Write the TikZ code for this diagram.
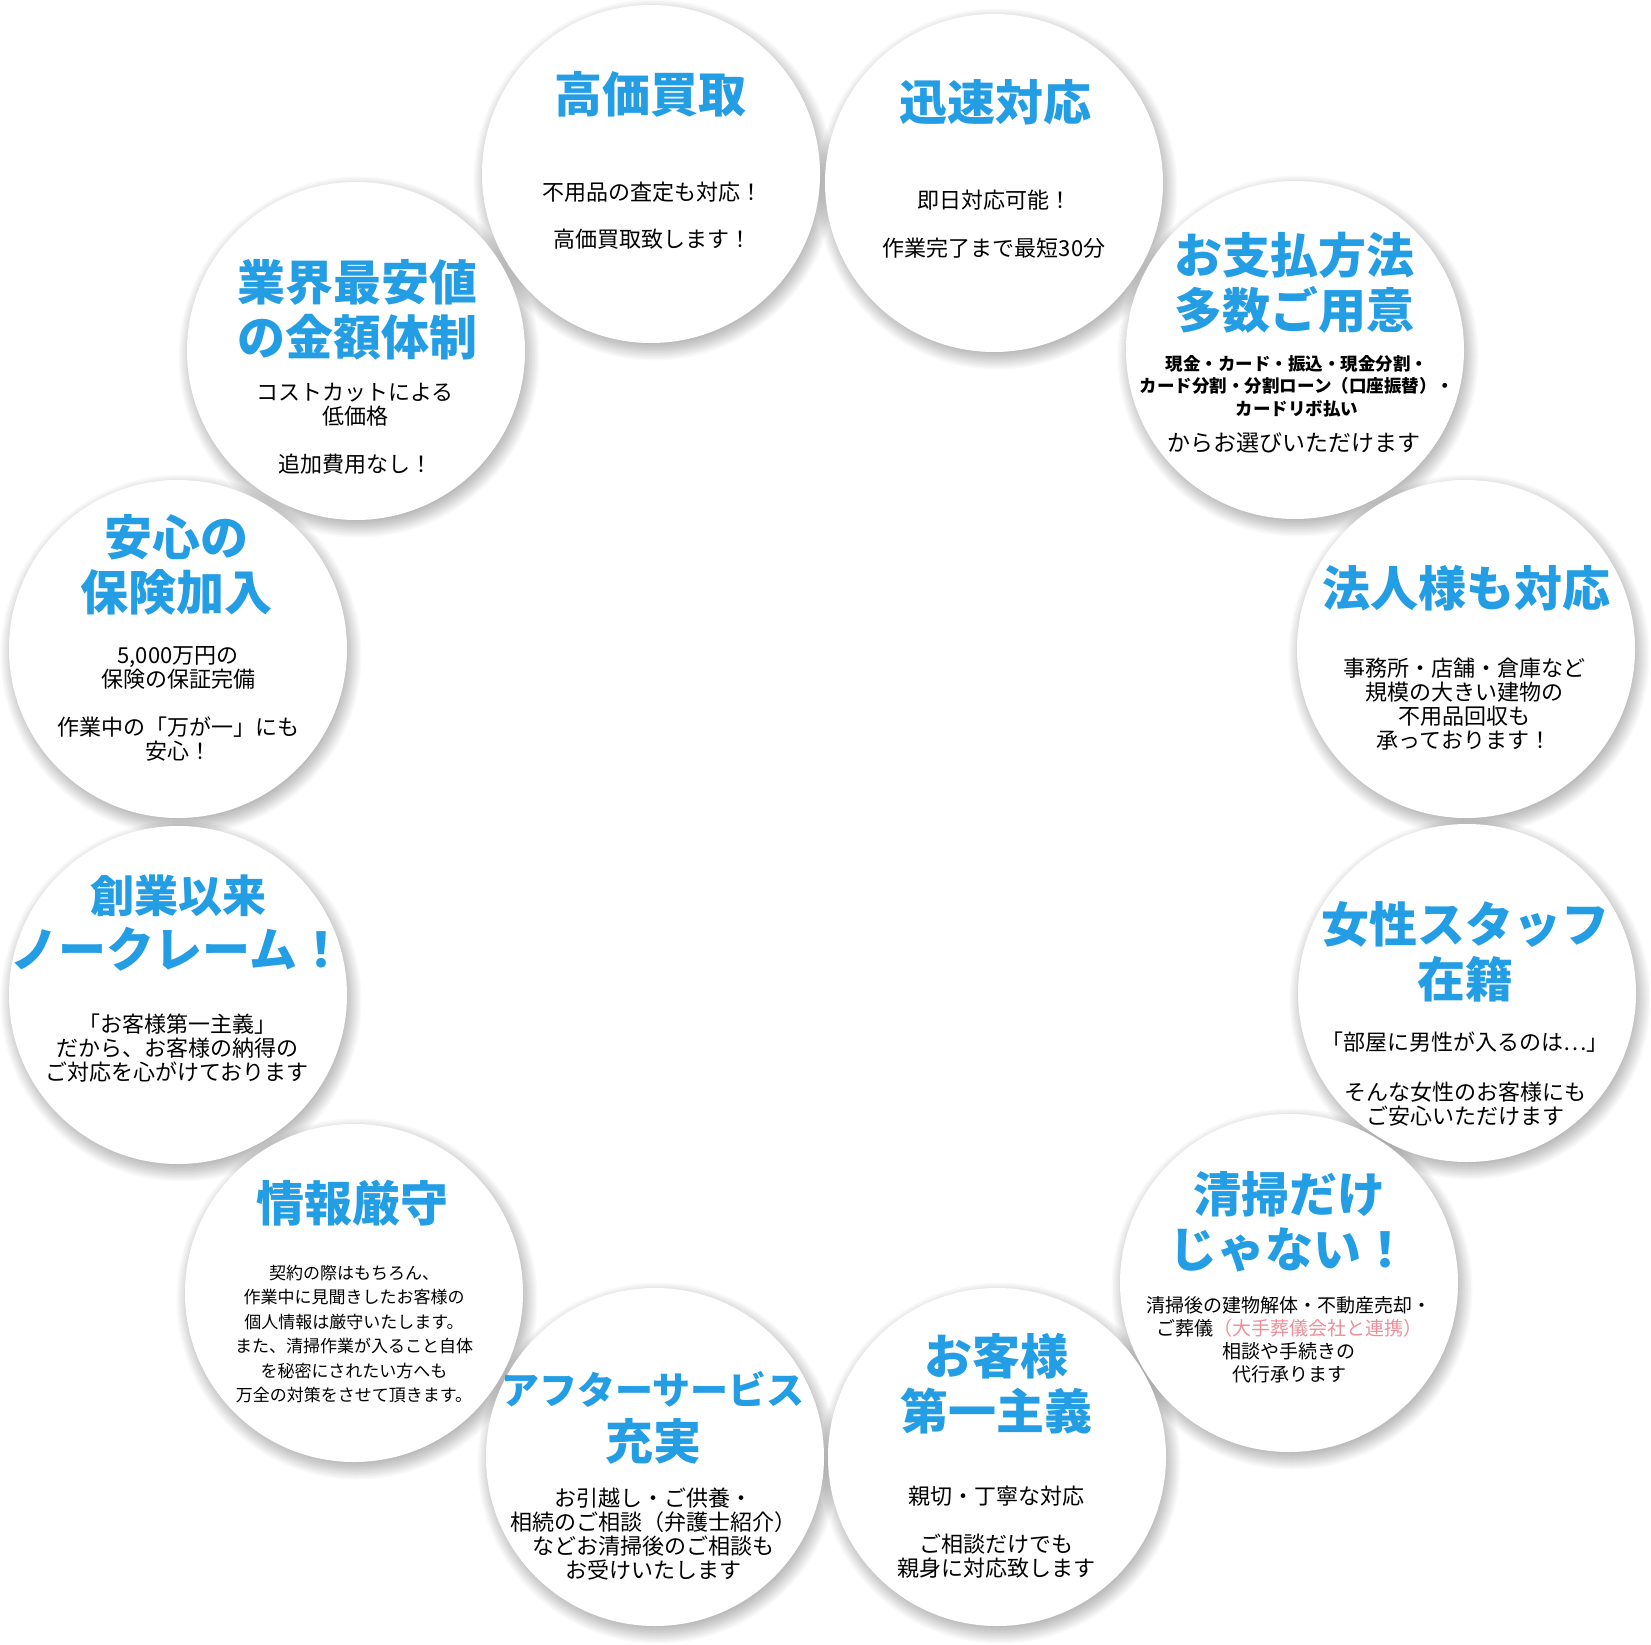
\documentclass[tikz,border=0pt]{standalone}
\usepackage{fontspec}
\newfontfamily\jpfont{Noto Sans CJK JP}
\usepackage{tikz}
\usetikzlibrary{positioning,calc,backgrounds}
\definecolor{headblue}{HTML}{239DE3}
\definecolor{notepink}{HTML}{EE8E98}

\tikzset{
  bubble/.style={circle, fill=white, minimum size=338pt, inner sep=0pt},
  haze/.style={fill=black, opacity=0.022},
  headline/.style={text=headblue, align=center, inner sep=0pt,
    font=\jpfont\bfseries\fontsize{48}{55}\selectfont},
  blurb/.style={align=center, inner sep=0pt, font=\jpfont\fontsize{22}{24}\selectfont},
}

\begin{document}
\begin{tikzpicture}[x=1pt, y=-1pt]
     \useasboundingbox (0,0) rectangle (1651,1645);
     % ring of bubbles
     \node[bubble] (kaitori) at (651,174) {};
     \node[bubble] (jinsoku) at (994,183) {};
     \node[bubble] (shiharai) at (1295,350) {};
     \node[bubble] (houjin) at (1466,649) {};
     \node[bubble] (josei) at (1467,993) {};
     \node[bubble] (seisou) at (1289,1283) {};
     \node[bubble] (okyaku) at (997,1457) {};
     \node[bubble] (after) at (655,1457) {};
     \node[bubble] (jouhou) at (354,1293) {};
     \node[bubble] (sougyou) at (178,995) {};
     \node[bubble] (anshin) at (178,649) {};
     \node[bubble] (saiyasu) at (356,351) {};
     % soft shadows behind the bubbles
     \begin{scope}[on background layer]
       \fill[white] (0,0) rectangle (1651,1645);
       \foreach \b in {kaitori,jinsoku,shiharai,houjin,josei,seisou,okyaku,after,jouhou,sougyou,anshin,saiyasu}
         \foreach \s in {1,...,13}
           \fill[haze] ([shift={(3,6)}]\b.center) circle (161+1.5*\s);
     \end{scope}
     % texts
     \node[headline] (kaitori-head) at (650,94) {高価買取};
     \node[blurb] (kaitori-text) at (652,216) {不用品の査定も対応！\\[23pt]高価買取致します！};
     \node[headline] (jinsoku-head) at (995,102) {迅速対応};
     \node[blurb] (jinsoku-text) at (994,224) {即日対応可能！\\[24pt]作業完了まで最短30分};
     \node[headline] (shiharai-head) at (1294,283) {お支払方法\\多数ご用意};
     \node[blurb, font=\jpfont\bfseries\fontsize{17.5}{22.5}\selectfont] (shiharai-list) at (1297,386)
       {現金・カード・振込・現金分割・\\カード分割・分割ローン（口座振替）・\\カードリボ払い};
     \node[blurb, font=\jpfont\fontsize{23}{24}\selectfont] (shiharai-text) at (1294,443) {からお選びいただけます};
     \node[headline] (houjin-head) at (1466,588) {法人様も対応};
     \node[blurb] (houjin-text) at (1464,704) {事務所・店舗・倉庫など\\規模の大きい建物の\\不用品回収も\\承っております！};
     \node[headline] (josei-head) at (1465,952) {女性スタッフ\\在籍};
     \node[blurb] (josei-text) at (1465,1079) {「部屋に男性が入るのは⋯」\\[26pt]そんな女性のお客様にも\\ご安心いただけます};
     \node[headline] (seisou-head) at (1289,1222) {清掃だけ\\じゃない！};
     \node[blurb, font=\jpfont\fontsize{19}{23}\selectfont] (seisou-text) at (1289,1340)
       {清掃後の建物解体・不動産売却・\\ご葬儀\textcolor{notepink}{（大手葬儀会社と連携）}\\相談や手続きの\\代行承ります};
     \node[headline] (okyaku-head) at (996,1384) {お客様\\第一主義};
     \node[blurb] (okyaku-text) at (996,1532) {親切・丁寧な対応\\[24pt]ご相談だけでも\\親身に対応致します};
     \node[headline] (after-head) at (653,1418) {\fontsize{38}{55}\selectfont アフターサービス\\\fontsize{48}{55}\selectfont 充実};
     \node[blurb] (after-text) at (653,1534) {お引越し・ご供養・\\相続のご相談（弁護士紹介）\\などお清掃後のご相談も\\お受けいたします};
     \node[headline] (jouhou-head) at (352,1203) {情報厳守};
     \node[blurb, font=\jpfont\fontsize{17}{24.4}\selectfont] (jouhou-text) at (354,1334)
       {契約の際はもちろん、\\作業中に見聞きしたお客様の\\個人情報は厳守いたします。\\また、清掃作業が入ること自体\\を秘密にされたい方へも\\万全の対策をさせて頂きます。};
     \node[headline] (sougyou-head) at (178,923) {\fontsize{44}{53}\selectfont 創業以来\\ノークレーム！};
     \node[blurb] (sougyou-text) at (177,1048) {「お客様第一主義」\\だから、お客様の納得の\\ご対応を心がけております};
     \node[headline] (anshin-head) at (176,565) {安心の\\保険加入};
     \node[blurb] (anshin-text) at (178,704) {5,000万円の\\保険の保証完備\\[24pt]作業中の「万が一」にも\\安心！};
     \node[headline] (saiyasu-head) at (357,310) {業界最安値\\の金額体制};
     \node[blurb] (saiyasu-text) at (355,429) {コストカットによる\\低価格\\[24pt]追加費用なし！};
\end{tikzpicture}
\end{document}
